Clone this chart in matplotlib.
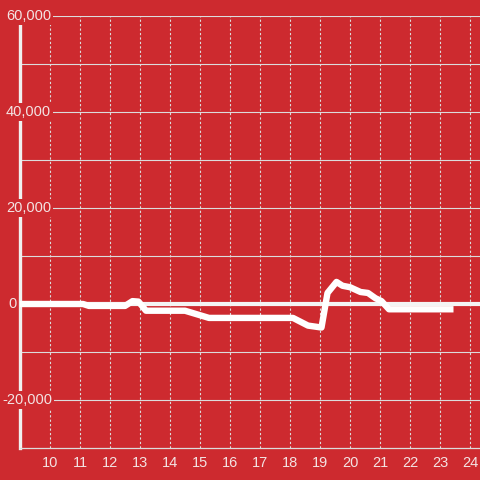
import matplotlib
matplotlib.use('Agg')
import matplotlib.pyplot as plt

# 数据 (小时, 数值)
hours = [9.0, 11.1, 11.3, 12.5, 12.75, 12.95, 13.2, 14.5, 15.3, 18.1, 18.6, 19.05,
         19.25, 19.55, 19.75, 20.0, 20.35, 20.6, 20.85, 21.05, 21.3, 23.45]
values = [0, 0, -400, -400, 600, 500, -1400, -1400, -2900, -2900, -4500, -4900,
          2300, 4600, 3800, 3500, 2500, 2300, 1200, 600, -1100, -1100]

x_ticks = list(range(10, 25))
y_grid = list(range(-20000, 60001, 10000))
y_labels = {60000: '60,000', 40000: '40,000', 20000: '20,000', 0: '0', -20000: '-20,000'}

BG = '#cd2a2f'
GRID = '#dcdcdc'
TXT = '#f3e3e3'

plt.rcParams['font.family'] = ['Liberation Sans', 'DejaVu Sans']

fig = plt.figure(figsize=(4.8, 4.8), dpi=100, facecolor=BG)
ax = fig.add_axes([20 / 480, 32 / 480, 460 / 480, 432 / 480], facecolor=BG)

ax.set_xlim(9, 9 + 460 / 30)
ax.set_ylim(-30000, 60000)

# 网格
ax.set_xticks(x_ticks)
ax.set_yticks(y_grid)
ax.grid(axis='x', color=GRID, linestyle=(0, (2, 2)), linewidth=0.8)
ax.grid(axis='y', color=GRID, linestyle='-', linewidth=0.8)
ax.set_axisbelow(True)
ax.axhline(0, color='#f4f4f4', linewidth=3, zorder=2)

ax.plot(hours, values, color='white', linewidth=4.6, solid_joinstyle='round',
        solid_capstyle='butt', zorder=4)

for s in ['top', 'right']:
    ax.spines[s].set_visible(False)
ax.spines['left'].set_color('#f0f0f0')
ax.spines['left'].set_linewidth(2.4)
ax.spines['bottom'].set_color(GRID)
ax.spines['bottom'].set_linewidth(0.9)

ax.tick_params(axis='both', length=0)
ax.tick_params(axis='x', colors=TXT, labelsize=10.5, pad=6)
ax.set_xticklabels([str(t) for t in x_ticks])
ax.set_yticklabels([])

ytr = ax.get_yaxis_transform()
for v, lab in y_labels.items():
    x0 = (6 - 20) / 460 if not lab.startswith('-') else (2 - 20) / 460
    if lab == '0':
        x0 = (8 - 20) / 460
    ax.text(x0, v, lab, transform=ytr, ha='left', va='center', color=TXT,
            fontsize=10.5, clip_on=False, zorder=6,
            bbox=dict(boxstyle='square,pad=0.12', fc=BG, ec='none'))

fig.savefig('out.png', dpi=100, facecolor=BG)
